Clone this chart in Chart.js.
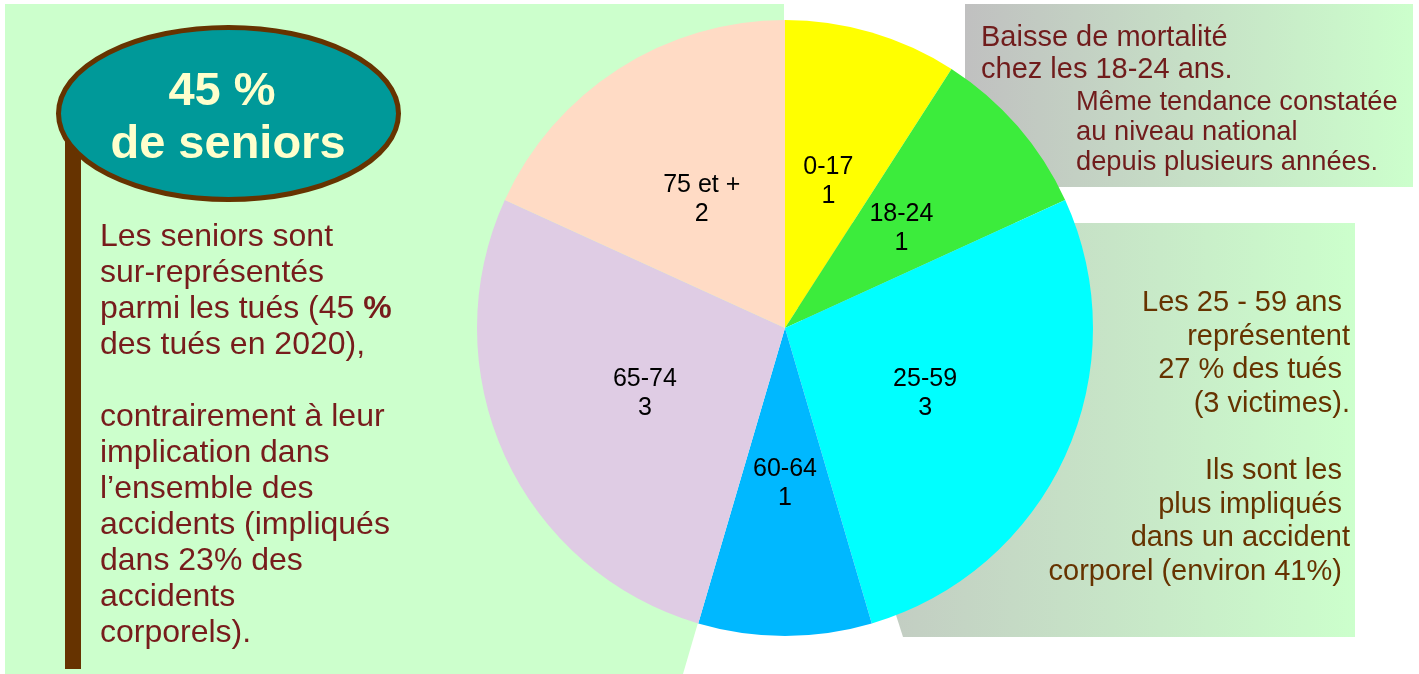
<!DOCTYPE html>
<html><head><meta charset="utf-8">
<script src="https://cdn.jsdelivr.net/npm/chart.js@4/dist/chart.umd.min.js"></script>
<style>html,body{margin:0;padding:0;background:#fff;}#wrap{width:1419px;height:674px;}</style>
</head><body><div id="wrap"><canvas id="c" width="1419" height="674"></canvas></div>
<script>
const categories = ['0-17', '18-24', '25-59', '60-64', '65-74', '75 et +'];
const victims = [1, 1, 3, 1, 3, 2];
const sliceColors = ['#ffff00', '#3cec3c', '#00ffff', '#00b8ff', '#dfcce4', '#ffdbc5'];
const badgeLines = ['45 %', 'de seniors'];
const leftLines = ['Les seniors sont', 'sur-représentés', 'parmi les tués (45 %', 'des tués en 2020),', '', 'contrairement à leur', 'implication dans', 'l’ensemble des', 'accidents (impliqués', 'dans 23% des', 'accidents', 'corporels).'];
const topRightLines = ['Baisse de mortalité', 'chez les 18-24 ans.'];
const topRightSubLines = ['Même tendance constatée', 'au niveau national', 'depuis plusieurs années.'];
const rightLines = ['Les 25 - 59 ans ', 'représentent', '27 % des tués ', '(3 victimes).', '', 'Ils sont les ', 'plus impliqués ', 'dans un accident', 'corporel (environ 41%) '];

const FF = '"Liberation Sans", Arial, sans-serif';

const backgroundPlugin = {
  id: 'bg',
  beforeDraw(chart) {
    const ctx = chart.ctx;
    ctx.save();
    ctx.fillStyle = '#ffffff';
    ctx.fillRect(0, 0, chart.width, chart.height);
    // left panel
    ctx.fillStyle = '#ccffcc';
    ctx.beginPath();
    ctx.moveTo(5, 4); ctx.lineTo(784, 4); ctx.lineTo(784, 328); ctx.lineTo(683, 674); ctx.lineTo(5, 674);
    ctx.closePath(); ctx.fill();
    // top right panel
    let g = ctx.createLinearGradient(965, 0, 1413, 0);
    g.addColorStop(0, '#c0c0c0'); g.addColorStop(1, '#ccffcc');
    ctx.fillStyle = g;
    ctx.fillRect(965, 4, 448, 183);
    // right panel
    g = ctx.createLinearGradient(771, 0, 1355, 0);
    g.addColorStop(0, '#c0c0c0'); g.addColorStop(1, '#ccffcc');
    ctx.fillStyle = g;
    ctx.beginPath();
    ctx.moveTo(771, 223); ctx.lineTo(1355, 223); ctx.lineTo(1355, 637); ctx.lineTo(903, 637);
    ctx.closePath(); ctx.fill();
    // vertical bar
    ctx.fillStyle = '#663300';
    ctx.fillRect(65, 140, 16, 529);
    // ellipse badge
    ctx.beginPath();
    ctx.ellipse(228.5, 113.5, 170, 86, 0, 0, Math.PI * 2);
    ctx.fillStyle = '#009999'; ctx.fill();
    ctx.lineWidth = 5; ctx.strokeStyle = '#663300'; ctx.stroke();
    ctx.fillStyle = '#ffffcc';
    ctx.font = 'bold 47px ' + FF;
    ctx.textAlign = 'center'; ctx.textBaseline = 'alphabetic';
    ctx.fillText(badgeLines[0], 222, 105);
    ctx.fillText(badgeLines[1], 228, 158);
    // left text
    ctx.textAlign = 'left';
    ctx.fillStyle = '#771c1c';
    leftLines.forEach((t, i) => {
      const y = 246 + 36 * i;
      if (i === 2) {
        const part = t.slice(0, -1);
        ctx.font = '32px ' + FF;
        ctx.fillText(part, 100, y);
        const w = ctx.measureText(part).width;
        ctx.font = 'bold 32px ' + FF;
        ctx.fillText('%', 100 + w, y);
      } else {
        ctx.font = '32px ' + FF;
        ctx.fillText(t, 100, y);
      }
    });
    // top right text
    ctx.fillStyle = '#701c1c';
    ctx.font = '29px ' + FF;
    topRightLines.forEach((t, i) => ctx.fillText(t, 981, 46 + 32 * i));
    ctx.font = '27.3px ' + FF;
    topRightSubLines.forEach((t, i) => ctx.fillText(t, 1076, 110 + 30 * i));
    // right text
    ctx.fillStyle = '#663300';
    ctx.font = '29px ' + FF;
    ctx.textAlign = 'right';
    rightLines.forEach((t, i) => ctx.fillText(t, 1350, 311 + 33.6 * i));
    ctx.restore();
  }
};

const labelPlugin = {
  id: 'sliceLabels',
  afterDatasetsDraw(chart) {
    const ctx = chart.ctx;
    const meta = chart.getDatasetMeta(0);
    ctx.save();
    ctx.fillStyle = '#000000';
    ctx.font = '25px ' + FF;
    ctx.textAlign = 'center'; ctx.textBaseline = 'middle';
    meta.data.forEach((arc, i) => {
      const p = arc.getCenterPoint();
      ctx.fillText(chart.data.labels[i], p.x, p.y - 13);
      ctx.fillText(String(chart.data.datasets[0].data[i]), p.x, p.y + 16);
    });
    ctx.restore();
  }
};

new Chart(document.getElementById('c'), {
  type: 'pie',
  data: {
    labels: categories,
    datasets: [{ data: victims, backgroundColor: sliceColors, borderWidth: 0 }]
  },
  options: {
    responsive: false,
    animation: false,
    devicePixelRatio: 1,
    layout: { padding: { left: 477, right: 326, top: 20, bottom: 38 } },
    plugins: { legend: { display: false }, tooltip: { enabled: false } }
  },
  plugins: [backgroundPlugin, labelPlugin]
});
</script></body></html>
